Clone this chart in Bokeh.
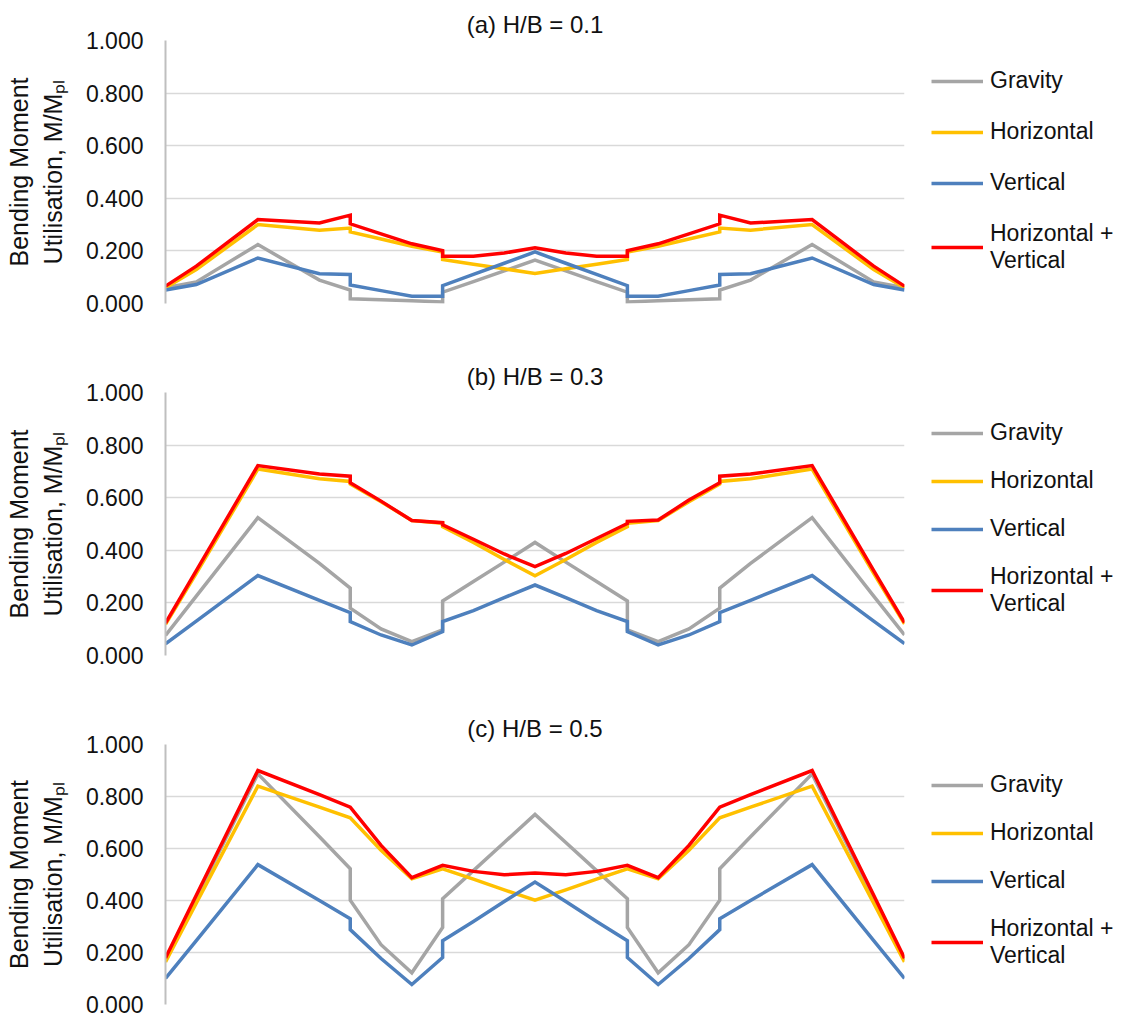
import math
from bokeh.plotting import figure
from bokeh.layouts import column
from bokeh.models import (Range1d, FixedTicker, PrintfTickFormatter, Legend,
                          LegendItem)
from bokeh.embed import file_html
from bokeh.resources import INLINE

# ---------------- data ----------------
x_pos = [0, 1, 3, 5, 6, 6, 7, 8, 9, 9, 10, 11, 12, 13, 14, 15, 15, 16, 17, 18, 18, 19, 21, 23, 24]

series_names = ["Gravity", "Horizontal", "Vertical", "Horizontal +\nVertical"]
titles = ["(a) H/B = 0.1", "(b) H/B = 0.3", "(c) H/B = 0.5"]
y_title = "Bending Moment\nUtilisation, M/M\u209a\u2097"
y_ticks = [0.0, 0.2, 0.4, 0.6, 0.8, 1.0]

gravity_a = [0.060, 0.082, 0.224, 0.089, 0.051, 0.018, 0.014, 0.010, 0.006, 0.043, 0.083, 0.124, 0.165,
             0.124, 0.083, 0.043, 0.006, 0.010, 0.014, 0.018, 0.051, 0.089, 0.224, 0.082, 0.060]
horizontal_a = [0.060, 0.129, 0.300, 0.279, 0.287, 0.272, 0.245, 0.218, 0.196, 0.167, 0.149, 0.132, 0.114,
                0.132, 0.149, 0.167, 0.196, 0.218, 0.245, 0.272, 0.287, 0.279, 0.300, 0.129, 0.060]
vertical_a = [0.051, 0.072, 0.173, 0.113, 0.110, 0.070, 0.049, 0.028, 0.028, 0.068, 0.111, 0.153, 0.196,
              0.153, 0.111, 0.068, 0.028, 0.028, 0.049, 0.070, 0.110, 0.113, 0.173, 0.072, 0.051]
combined_a = [0.066, 0.142, 0.319, 0.306, 0.336, 0.303, 0.265, 0.227, 0.201, 0.180, 0.180, 0.192, 0.212,
              0.192, 0.180, 0.180, 0.201, 0.227, 0.265, 0.303, 0.336, 0.306, 0.319, 0.142, 0.066]

gravity_b = [0.076, 0.226, 0.524, 0.350, 0.256, 0.180, 0.101, 0.053, 0.097, 0.207, 0.281, 0.355, 0.430,
             0.355, 0.281, 0.207, 0.097, 0.053, 0.101, 0.180, 0.256, 0.350, 0.524, 0.226, 0.078]
horizontal_b = [0.118, 0.312, 0.709, 0.672, 0.662, 0.652, 0.585, 0.513, 0.503, 0.490, 0.430, 0.365, 0.303,
                0.365, 0.430, 0.490, 0.503, 0.513, 0.585, 0.652, 0.662, 0.672, 0.709, 0.312, 0.120]
vertical_b = [0.044, 0.131, 0.304, 0.210, 0.163, 0.129, 0.078, 0.040, 0.091, 0.129, 0.171, 0.220, 0.268,
              0.220, 0.171, 0.129, 0.091, 0.040, 0.078, 0.129, 0.163, 0.210, 0.304, 0.131, 0.045]
combined_b = [0.123, 0.323, 0.722, 0.690, 0.682, 0.657, 0.587, 0.513, 0.505, 0.497, 0.442, 0.386, 0.338,
              0.388, 0.445, 0.502, 0.510, 0.515, 0.591, 0.657, 0.682, 0.690, 0.722, 0.323, 0.125]

gravity_c = [0.170, 0.410, 0.887, 0.645, 0.522, 0.401, 0.230, 0.122, 0.296, 0.407, 0.515, 0.623, 0.731,
             0.623, 0.515, 0.407, 0.296, 0.122, 0.230, 0.401, 0.522, 0.645, 0.887, 0.410, 0.170]
horizontal_c = [0.164, 0.390, 0.840, 0.759, 0.718, 0.718, 0.593, 0.484, 0.522, 0.522, 0.482, 0.441, 0.401,
                0.441, 0.482, 0.522, 0.522, 0.484, 0.593, 0.718, 0.718, 0.759, 0.840, 0.390, 0.164]
vertical_c = [0.100, 0.246, 0.538, 0.400, 0.330, 0.288, 0.177, 0.077, 0.181, 0.245, 0.319, 0.396, 0.471,
              0.396, 0.319, 0.245, 0.181, 0.077, 0.177, 0.288, 0.330, 0.400, 0.538, 0.246, 0.100]
combined_c = [0.179, 0.420, 0.900, 0.807, 0.759, 0.759, 0.612, 0.488, 0.535, 0.535, 0.512, 0.499, 0.506,
              0.499, 0.512, 0.535, 0.535, 0.488, 0.612, 0.759, 0.759, 0.807, 0.900, 0.420, 0.178]

panels = [
    (titles[0], [gravity_a, horizontal_a, vertical_a, combined_a]),
    (titles[1], [gravity_b, horizontal_b, vertical_b, combined_b]),
    (titles[2], [gravity_c, horizontal_c, vertical_c, combined_c]),
]

# ---------------- style ----------------
COLORS = ["#A5A5A5", "#FFC000", "#4E80BD", "#FF0000"]
FONT = "Liberation Sans"
TEXT = "#111111"

# (border_top, frame_h, border_bottom, legend_spacing)
LAYOUT = [
    (40, 263, 55, 24),
    (34, 263, 55, 21),
    (34, 260, 15, 21),
]
FRAME_W = 739
BORDER_L = 165
BORDER_R = 212


def make_panel(title, series, layout):
    btop, fh, bbot, leg_sp = layout
    p = figure(frame_width=FRAME_W, frame_height=fh,
               min_border_left=BORDER_L, min_border_right=BORDER_R,
               min_border_top=btop, min_border_bottom=bbot,
               x_range=Range1d(0, 24), y_range=Range1d(0, 1),
               output_backend="svg", toolbar_location=None,
               background_fill_color="white", border_fill_color="white")
    p.outline_line_color = None
    p.xaxis.visible = False
    p.xgrid.visible = False
    p.ygrid.grid_line_color = "#D9D9D9"
    p.ygrid.grid_line_width = 1.5
    p.yaxis.ticker = FixedTicker(ticks=y_ticks)
    p.ygrid.ticker = FixedTicker(ticks=y_ticks)
    p.yaxis.formatter = PrintfTickFormatter(format="%.3f")
    p.yaxis.axis_line_color = "#BFBFBF"
    p.yaxis.axis_line_width = 2
    p.yaxis.major_tick_line_color = None
    p.yaxis.minor_tick_line_color = None
    p.yaxis.major_tick_out = 0
    p.yaxis.major_tick_in = 0
    p.yaxis.major_label_standoff = 22
    p.yaxis.major_label_text_font = FONT
    p.yaxis.major_label_text_font_size = "23px"
    p.yaxis.major_label_text_color = TEXT
    p.yaxis.axis_label = y_title
    p.yaxis.axis_label_text_font = FONT
    p.yaxis.axis_label_text_font_size = "25px"
    p.yaxis.axis_label_text_font_style = "normal"
    p.yaxis.axis_label_text_color = TEXT
    p.yaxis.axis_label_standoff = 16

    p.title.text = title
    p.title.align = "center"
    p.title.text_font = FONT
    p.title.text_font_size = "24px"
    p.title.text_font_style = "normal"
    p.title.text_color = TEXT
    p.title.standoff = 5

    items = []
    for name, ys, col in zip(series_names, series, COLORS):
        r = p.line(x_pos, ys, line_color=col, line_width=3.5, line_join="miter")
        items.append(LegendItem(label=name, renderers=[r]))

    legend = Legend(items=items, location="top_left",
                    orientation="vertical",
                    label_text_font=FONT, label_text_font_size="23px",
                    label_text_color=TEXT, glyph_width=52, glyph_height=20,
                    label_standoff=7, spacing=leg_sp, padding=0, margin=27,
                    border_line_color=None, background_fill_alpha=0,
                    label_height=20)
    p.add_layout(legend, "right")
    return p


figs = [make_panel(t, s, l) for (t, s), l in zip(panels, LAYOUT)]
layout = column(*figs, spacing=0)
open("out.html", "w").write(file_html(layout, INLINE))
